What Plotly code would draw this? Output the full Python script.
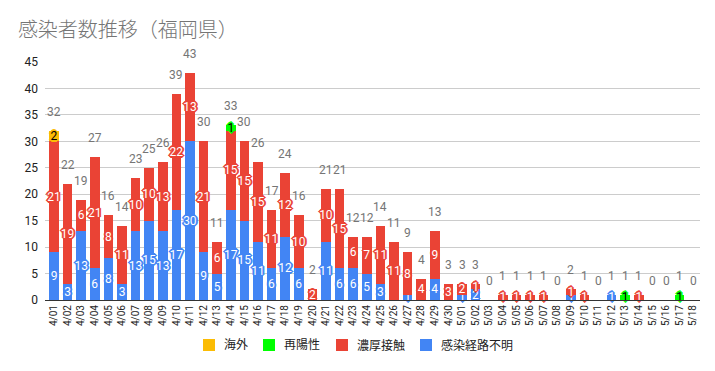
import plotly.graph_objects as go

dates = ["4/01","4/02","4/03","4/04","4/05","4/06","4/07","4/08","4/09","4/10",
         "4/11","4/12","4/13","4/14","4/15","4/16","4/17","4/18","4/19","4/20",
         "4/21","4/22","4/23","4/24","4/25","4/26","4/27","4/28","4/29","4/30",
         "5/01","5/02","5/03","5/04","5/05","5/06","5/07","5/08","5/09","5/10",
         "5/11","5/12","5/13","5/14","5/15","5/16","5/17","5/18"]
unknown = [9,3,13,6,8,3,13,15,13,17,30,9,5,17,15,11,6,12,6,0,
           11,6,6,5,3,0,1,0,4,0,1,2,0,0,0,0,0,0,1,0,
           0,1,0,0,0,0,0,0]
close = [21,19,6,21,8,11,10,10,13,22,13,21,6,15,15,15,11,12,10,2,
         10,15,6,7,11,11,8,4,9,3,2,1,0,1,1,1,1,0,1,1,
         0,0,0,1,0,0,0,0]
repos = [0,0,0,0,0,0,0,0,0,0,0,0,0,1,0,0,0,0,0,0,
         0,0,0,0,0,0,0,0,0,0,0,0,0,0,0,0,0,0,0,0,
         0,0,1,0,0,0,1,0]
overseas = [2,0,0,0,0,0,0,0,0,0,0,0,0,0,0,0,0,0,0,0,
            0,0,0,0,0,0,0,0,0,0,0,0,0,0,0,0,0,0,0,0,
            0,0,0,0,0,0,0,0]

FONT = "Roboto, 'Noto Sans CJK JP', Arial, sans-serif"

series = [
    ("感染経路不明", unknown, "#4285f4", "white"),
    ("濃厚接触", close, "#ea4335", "white"),
    ("再陽性", repos, "#00ff00", "black"),
    ("海外", overseas, "#fbbc04", "black"),
]

W, H = 715, 371
ML, MR, MT, MB = 45, 15, 62, 71
PW, PH = W - ML - MR, H - MT - MB

def px_x(px):
    return (px - ML) / PW

def px_y(py):
    return (H - MB - py) / PH

fig = go.Figure()
for name, vals, col, tcol in series:
    sh = ", ".join(f"{dx}px {dy}px 0 {col}" for dx, dy in
                   [(1,0),(-1,0),(0,1),(0,-1),(1,1),(-1,-1),(1,-1),(-1,1),(2,0),(-2,0),(0,2),(0,-2)])
    fig.add_trace(go.Bar(
        x=dates, y=[v if v else None for v in vals], name=name,
        marker=dict(color=col, line=dict(width=0)),
        text=[str(v) if v else "" for v in vals],
        textposition="inside", insidetextanchor="middle", textangle=0,
        constraintext="none", cliponaxis=False, showlegend=False,
        textfont=dict(color=tcol, size=12, family=FONT, shadow=sh),
        hoverinfo="x+y+name",
    ))

totals = [a + b + c + d for a, b, c, d in zip(unknown, close, repos, overseas)]
for d, t in zip(dates, totals):
    fig.add_annotation(x=d, y=t, text=str(t), showarrow=False, yanchor="bottom",
                       yshift=10, font=dict(color="#757575", size=12, family=FONT))

# custom legend (order as in reference)
legend_items = [("海外", "#fbbc04", 203), ("再陽性", "#00ff00", 263),
                ("濃厚接触", "#ea4335", 336), ("感染経路不明", "#4285f4", 420)]
for lab, col, x0 in legend_items:
    fig.add_shape(type="rect", xref="paper", yref="paper",
                  x0=px_x(x0), x1=px_x(x0 + 12), y0=px_y(351), y1=px_y(339),
                  fillcolor=col, line=dict(width=0))
    fig.add_annotation(xref="paper", yref="paper", x=px_x(x0 + 19), y=px_y(345),
                       text=lab, showarrow=False, xanchor="left", yanchor="middle",
                       font=dict(size=12, color="#222222", family=FONT))

fig.update_layout(
    width=W, height=H,
    barmode="stack", bargap=0.3,
    plot_bgcolor="white", paper_bgcolor="white",
    margin=dict(l=ML, r=MR, t=MT, b=MB, autoexpand=False),
    title=dict(text="感染者数推移（福岡県）", x=0.025, xanchor="left", y=0.92, yanchor="middle",
               font=dict(size=20, color="#757575", family="'Noto Sans CJK JP', sans-serif", weight=300)),
    font=dict(family=FONT, color="#222222"),
    uniformtext=dict(minsize=12, mode="show"),
    showlegend=False,
)
fig.update_xaxes(type="category", tickangle=-90, tickfont=dict(size=10, color="#222222"),
                 showline=True, linecolor="#333333", linewidth=1, ticks="", showgrid=False,
                 automargin=False)
fig.update_yaxes(range=[0, 45], dtick=5, showgrid=True, gridcolor="#cccccc",
                 tickfont=dict(size=12, color="#222222"), zeroline=False, showline=False,
                 ticks="", ticklabelstandoff=6, automargin=False)

fig.write_html("out.html", config={"displayModeBar": False},
               post_script="document.body.style.margin='0';")
